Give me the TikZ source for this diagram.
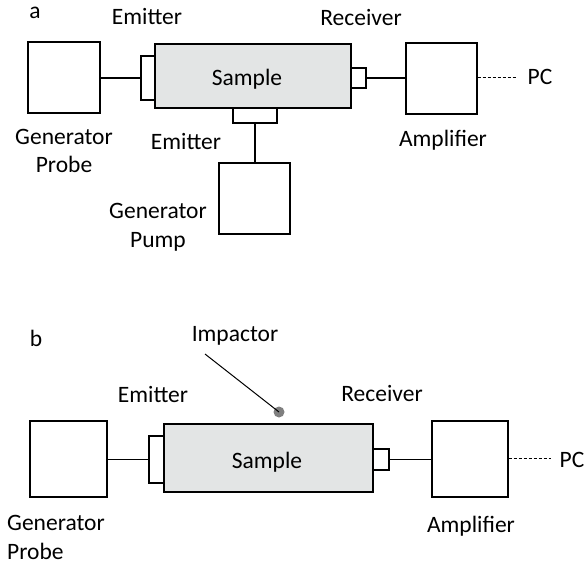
\documentclass[tikz,border=0pt]{standalone}
\usepackage{fontspec}
\setmainfont{Carlito}
\definecolor{samplegray}{HTML}{E3E5E5}
\definecolor{dotgray}{HTML}{7F7F7F}
\begin{document}
\begin{tikzpicture}[x=1pt,y=-1pt,
  every node/.style={font=\fontsize{23.5}{28.5}\selectfont, text=black},
  box/.style={draw, line width=1.2pt, fill=white, inner sep=0pt},
  samplebox/.style={draw, line width=1.2pt, fill=samplegray, inner sep=0pt},
  lbl/.style={inner sep=0pt, align=center},
  wire/.style={line width=1.2pt},
  dashwire/.style={line width=0.9pt, dash pattern=on 3pt off 2pt}]
\useasboundingbox (0,0) rectangle (587,565);

% ---------- part a ----------
\node[lbl] (la) at (35,12.5) {a};
\node[box, minimum width=72pt, minimum height=71pt] (gpa) at (64,77.5) {};
\node[samplebox, minimum width=196pt, minimum height=64pt] (sa) at (253,76) {};
\node[lbl] (sat) at (247,79) {Sample};
\node[box, minimum width=14pt, minimum height=44pt] (ema) at (148,78) {};
\node[box, minimum width=15pt, minimum height=20pt] (reca) at (358.5,78) {};
\node[box, minimum width=44pt, minimum height=15pt] (emb) at (255,115.5) {};
\node[box, minimum width=71pt, minimum height=71pt] (gpump) at (254.5,198.5) {};
\node[box, minimum width=71pt, minimum height=71pt] (ampa) at (441.5,78.5) {};
\node[lbl] (pca) at (540,77) {PC};
\coordinate (pcaend) at (517,77);

\draw[wire] (gpa.east |- ema.west) -- (ema.west);
\draw[wire] (reca.east) -- (reca.east -| ampa.west);
\draw[wire] (emb.south) -- (emb.south |- gpump.north);
\draw[dashwire] (ampa.east |- pcaend) -- (pcaend);

\node[lbl] (emta) at (147,17) {Emitter};
\node[lbl] (reta) at (361,17) {Receiver};
\node[lbl] (gpta) at (64,151) {Generator\\Probe};
\node[lbl] (emtb) at (186,142) {Emitter};
\node[lbl] (ampta) at (443,140) {Amplifier};
\node[lbl] (gput) at (158,227.5) {Generator\\Pump};

% ---------- part b ----------
\node[lbl] (lb) at (36,338) {b};
\node[box, minimum width=77pt, minimum height=76pt] (gpb) at (68.5,459) {};
\node[samplebox, minimum width=209pt, minimum height=68pt] (sb) at (268.5,458) {};
\node[lbl] (sbt) at (267,462) {Sample};
\node[box, minimum width=15pt, minimum height=47pt] (emc) at (156.5,459.5) {};
\node[box, minimum width=16pt, minimum height=21pt] (recb) at (381,459.5) {};
\node[box, minimum width=76pt, minimum height=76pt] (ampb) at (470,459) {};
\node[lbl] (pcb) at (572,460) {PC};
\coordinate (pcbend) at (551,458);
\node[circle, fill=dotgray, inner sep=0pt, minimum size=11pt] (imp) at (279,412) {};
\coordinate (impstart) at (205,354);

\draw[wire] (gpb.east |- emc.west) -- (emc.west);
\draw[wire] (recb.east) -- (recb.east -| ampb.west);
\draw[dashwire] (ampb.east |- pcbend) -- (pcbend);
\draw[line width=1pt] (impstart) -- (imp.center);

\node[lbl] (impt) at (235,336) {Impactor};
\node[lbl] (emtc) at (153,394) {Emitter};
\node[lbl] (retb) at (382,393) {Receiver};
\node[lbl, align=left, anchor=west] (gptb) at (7,537.5) {Generator\\Probe};
\node[lbl] (amptb) at (471,526) {Amplifier};
\end{tikzpicture}
\end{document}
